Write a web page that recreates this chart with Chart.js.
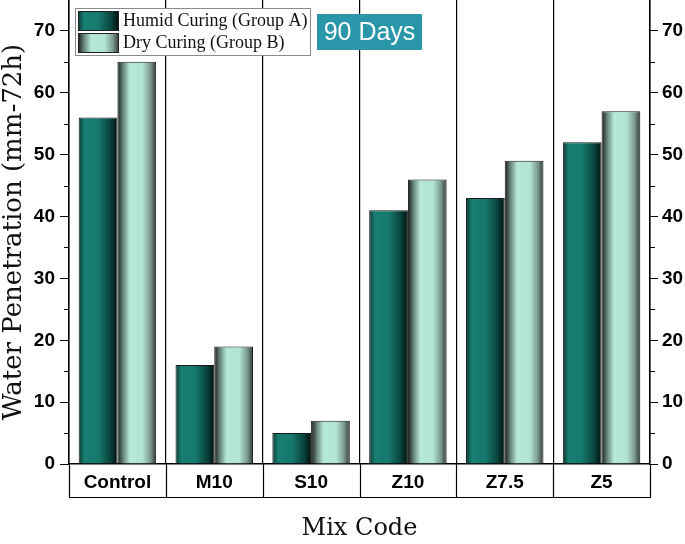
<!DOCTYPE html>
<html>
<head>
<meta charset="utf-8">
<script src="https://cdn.jsdelivr.net/npm/chart.js@4.4.1/dist/chart.umd.min.js"></script>
<style>
  html, body { margin: 0; padding: 0; background: #fff; }
  #wrap { width: 685px; height: 544px; }
</style>
</head>
<body>
<div id="wrap"><canvas id="chartPenetration"></canvas></div>
<script>
const categories = ['Control', 'M10', 'S10', 'Z10', 'Z7.5', 'Z5'];
const humidCuring = [56, 16, 5, 41, 43, 52];
const dryCuring = [65, 19, 7, 46, 49, 57];
const seriesNames = ['Humid Curing (Group A)', 'Dry Curing (Group B)'];
const majorTicks = [0, 10, 20, 30, 40, 50, 60, 70];
const minorTicks = [5, 15, 25, 35, 45, 55, 65];

const humidStops = [[0, '#0d3a34'], [0.15, '#177f73'], [0.5, '#16796d'], [0.8, '#0a463e'], [1, '#00110e']];
const dryStops = [[0, '#161b1a'], [0.15, '#6a877f'], [0.32, '#b6e8d8'], [0.65, '#b2e4d4'], [0.85, '#7c9a91'], [1, '#2f3936']];

function barGradient(stops, side) {
  return function(context) {
    const chart = context.chart;
    const xs = chart.scales.x;
    if (!chart.chartArea || !xs || context.dataIndex === undefined) return stops[2][1];
    const c = xs.getPixelForValue(context.dataIndex);
    const w = xs.width / categories.length * 0.4;
    const x0 = side < 0 ? c - w : c;
    const g = chart.ctx.createLinearGradient(x0, 0, x0 + w, 0);
    stops.forEach(s => g.addColorStop(s[0], s[1]));
    return g;
  };
}

function swatch(ctx, stops, x, y, w, h) {
  const g = ctx.createLinearGradient(x, 0, x + w, 0);
  stops.forEach(s => g.addColorStop(s[0], s[1]));
  ctx.fillStyle = g;
  ctx.fillRect(x, y, w, h);
  ctx.strokeStyle = '#222';
  ctx.lineWidth = 1;
  ctx.strokeRect(x + 0.5, y + 0.5, w - 1, h - 1);
}

function fixTicks(s) {
  s.ticks = majorTicks.map(v => ({ value: v }));
}

const extras = {
  id: 'extras',
  afterDraw(chart) {
    const ctx = chart.ctx;
    const a = chart.chartArea;
    const ys = chart.scales.y;
    ctx.save();
    // label box under the x axis
    ctx.strokeStyle = '#000';
    ctx.lineWidth = 1.2;
    const step = (a.right - a.left) / categories.length;
    ctx.beginPath();
    for (let i = 0; i <= categories.length; i++) {
      const x = Math.round(a.left + i * step) + 0.5;
      ctx.moveTo(x, a.bottom);
      ctx.lineTo(x, a.bottom + 33);
    }
    ctx.moveTo(a.left, a.bottom + 33.5);
    ctx.lineTo(a.right + 1, a.bottom + 33.5);
    ctx.stroke();
    // minor ticks
    ctx.lineWidth = 1;
    ctx.beginPath();
    minorTicks.forEach(v => {
      const y = Math.round(ys.getPixelForValue(v)) + 0.5;
      ctx.moveTo(a.left - 5, y);
      ctx.lineTo(a.left, y);
      ctx.moveTo(a.right, y);
      ctx.lineTo(a.right + 5, y);
    });
    ctx.stroke();
    // legend
    const lx = a.left + 6, ly = 8;
    ctx.fillStyle = '#fff';
    ctx.fillRect(lx, ly, 235, 47);
    ctx.strokeStyle = '#8a8a8a';
    ctx.strokeRect(lx + 0.5, ly + 0.5, 235, 47);
    swatch(ctx, humidStops, lx + 3, ly + 3, 41, 20);
    swatch(ctx, dryStops, lx + 3, ly + 25, 41, 20);
    ctx.fillStyle = '#111';
    ctx.font = '18px "Liberation Serif"';
    ctx.textBaseline = 'middle';
    ctx.textAlign = 'left';
    ctx.fillText(seriesNames[0], lx + 48, ly + 13);
    ctx.fillText(seriesNames[1], lx + 48, ly + 35);
    // period tag
    ctx.fillStyle = '#2997a9';
    ctx.fillRect(317, 14, 105, 36);
    ctx.fillStyle = '#fff';
    ctx.font = '25px "Liberation Sans", Arial, sans-serif';
    ctx.textAlign = 'center';
    ctx.fillText('90 Days', 369.5, 33);
    ctx.restore();
  }
};

const tickFont = { family: '"Liberation Sans", Arial', size: 19, weight: 'bold' };

const ctx = document.getElementById('chartPenetration');
const barChart = new Chart(ctx, {
  type: 'bar',
  data: {
    labels: categories,
    datasets: [{
      label: seriesNames[0],
      data: humidCuring,
      backgroundColor: barGradient(humidStops, -1),
      borderColor: '#1a1a1a',
      borderWidth: 1,
      borderSkipped: 'bottom',
      xAxisID: 'x',
      yAxisID: 'y'
    }, {
      label: seriesNames[1],
      data: dryCuring,
      backgroundColor: barGradient(dryStops, 1),
      borderColor: '#1a1a1a',
      borderWidth: 1,
      borderSkipped: 'bottom',
      xAxisID: 'x',
      yAxisID: 'y'
    }]
  },
  options: {
    maintainAspectRatio : false,
    responsive: true,
    animation: false,
    layout: { padding: { top: 0, left: 0, right: 0, bottom: 0 } },
    plugins: {
      legend: { display: false },
      tooltip: { enabled: false }
    },
    datasets: {
      bar: { categoryPercentage: 0.8, barPercentage: 1.0 }
    },
    scales: {
      x: {
        position: 'bottom',
        afterFit: s => { s.height = 80; s.paddingLeft = 0; s.paddingRight = 0; },
        grid: { offset: true, color: '#000', lineWidth: 1.2, drawTicks: false },
        border: { color: '#000', width: 1.5 },
        ticks: { color: '#000', padding: 7, font: tickFont },
        title: {
          display: true, text: 'Mix Code', color: '#111',
          font: { family: '"DejaVu Serif"', size: 24, lineHeight: 1 },
          padding: { top: 0, bottom: 3 }
        }
      },
      y: {
        position: 'left',
        min: 0, max: 75,
        afterBuildTicks: fixTicks,
        afterFit: s => { s.width = 69; s.paddingTop = 0; s.paddingBottom = 0; },
        grid: { drawOnChartArea: false, color: '#000', tickLength: 9, lineWidth: 1 },
        border: { color: '#000', width: 1.5 },
        ticks: { color: '#000', padding: 5, font: tickFont },
        title: {
          display: true, text: 'Water Penetration (mm-72h)', color: '#111',
          font: { family: '"DejaVu Serif"', size: 26, lineHeight: 1 },
          padding: { top: 1, bottom: 0 }
        }
      },
      y2: {
        position: 'right',
        min: 0, max: 75,
        afterBuildTicks: fixTicks,
        afterFit: s => { s.width = 35; s.paddingTop = 0; s.paddingBottom = 0; },
        grid: { drawOnChartArea: false, color: '#000', tickLength: 8, lineWidth: 1 },
        border: { color: '#000', width: 1.5 },
        ticks: { color: '#000', padding: 4, font: tickFont }
      }
    }
  },
  plugins: [extras]
});
</script>
</body>
</html>
